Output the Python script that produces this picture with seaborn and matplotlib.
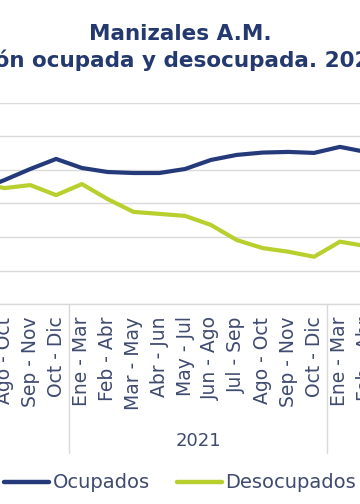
import pandas as pd
import matplotlib
matplotlib.use('Agg')
import matplotlib.pyplot as plt
import seaborn as sns
from matplotlib.lines import Line2D

# Datos (trimestres móviles)
periodos = ['Jul - Sep', 'Ago - Oct', 'Sep - Nov', 'Oct - Dic',
            'Ene - Mar', 'Feb - Abr', 'Mar - May', 'Abr - Jun', 'May - Jul',
            'Jun - Ago', 'Jul - Sep', 'Ago - Oct', 'Sep - Nov', 'Oct - Dic',
            'Ene - Mar', 'Feb - Abr']
anios = ['2020'] * 4 + ['2021'] * 10 + ['2022'] * 2
ocupados = [34.0, 37.0, 40.3, 43.3, 40.6, 39.4, 39.1, 39.1, 40.3,
            43.0, 44.5, 45.2, 45.4, 45.1, 46.9, 45.4]
desocupados = [36.1, 34.6, 35.5, 32.5, 35.8, 31.3, 27.5, 26.9, 26.3,
               23.6, 19.1, 16.7, 15.6, 14.1, 18.6, 17.3]

azul = '#243a7b'
verde = '#b8cf2e'
texto = '#3f4a70'
gris = '#d9d9d9'

pos = list(range(len(periodos)))
df = pd.DataFrame({
    'pos': pos * 2,
    'valor': ocupados + desocupados,
    'serie': ['Ocupados'] * len(pos) + ['Desocupados'] * len(pos),
})

sns.set_style('white')
plt.rcParams['font.family'] = ['DejaVu Sans']

fig = plt.figure(figsize=(3.6, 5.04), dpi=100)
# el gráfico original está recortado: el área de trazado sale del lienzo
ax = fig.add_axes([-34.2 / 360, 200 / 504, 412.8 / 360, 201 / 504])

sns.lineplot(data=df, x='pos', y='valor', hue='serie',
             palette={'Ocupados': azul, 'Desocupados': verde},
             linewidth=3, legend=False, ax=ax, sort=False,
             solid_capstyle='round', solid_joinstyle='round')

ax.set_xlim(-0.5, len(periodos) - 0.5)
ax.set_ylim(0, 60)
ax.set_yticks(range(0, 61, 10))
ax.yaxis.grid(True, color=gris, linewidth=1)
ax.set_axisbelow(True)
ax.set_xlabel('')
ax.set_ylabel('')
for s in ['top', 'left', 'right']:
    ax.spines[s].set_visible(False)
ax.spines['bottom'].set_color(gris)
ax.spines['bottom'].set_linewidth(1)

ax.set_xticks(pos)
ax.set_xticklabels(periodos, rotation=90, fontsize=13.5, color=texto)
ax.tick_params(axis='x', length=0, pad=9)
ax.tick_params(axis='y', length=0, labelleft=False)

# separadores de años y etiqueta del año completo
trans = ax.get_xaxis_transform()
for i in range(1, len(anios)):
    if anios[i] != anios[i - 1]:
        ax.plot([i - 0.5, i - 0.5], [0, -0.741], color=gris, linewidth=1,
                transform=trans, clip_on=False)
for a in sorted(set(anios)):
    idx = [i for i, v in enumerate(anios) if v == a]
    if len(idx) == 10:
        ax.text((idx[0] + idx[-1]) / 2, -0.682, a, transform=trans,
                ha='center', va='center', fontsize=13, color=texto)

fig.text(0.5, 1 - 40 / 504, 'Manizales A.M.', ha='center', va='baseline',
         fontsize=15.5, fontweight='bold', color='#23396f')
fig.text(0.5, 1 - 67 / 504, 'Población ocupada y desocupada. 2020-2022',
         ha='center', va='baseline', fontsize=15.5, fontweight='bold',
         color='#23396f')

handles = [Line2D([0], [0], color=azul, linewidth=3.2),
           Line2D([0], [0], color=verde, linewidth=3.2)]
fig.legend(handles, ['Ocupados', 'Desocupados'], loc='center',
           bbox_to_anchor=(0.5, 1 - 483 / 504), ncol=2, frameon=False,
           fontsize=14, handlelength=2.3, handletextpad=0.2,
           columnspacing=1.4, labelcolor=texto)

fig.savefig('out.png', dpi=100)
